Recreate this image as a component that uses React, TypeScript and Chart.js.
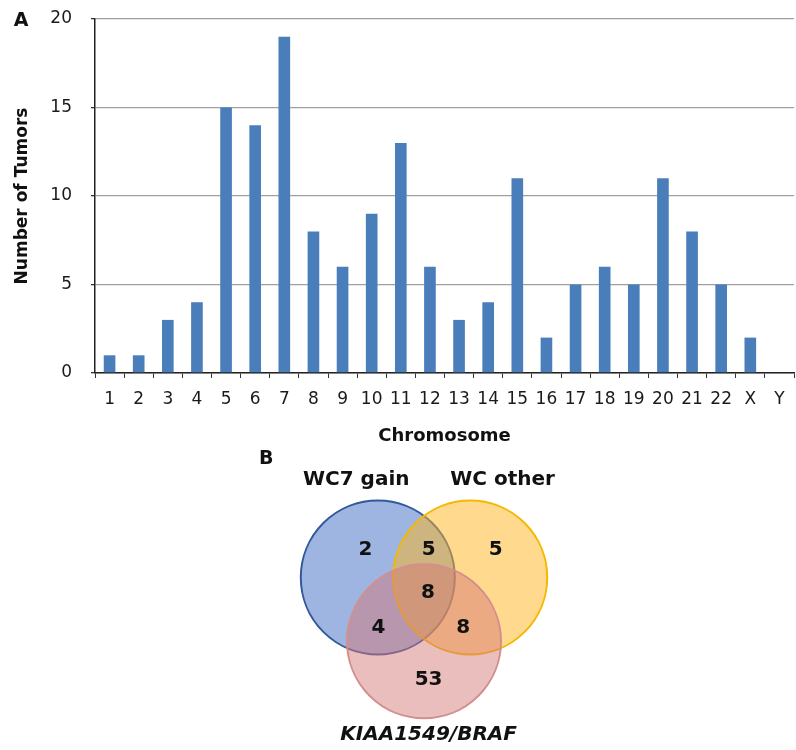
import React, { useEffect, useRef } from 'react';
import { Chart, registerables } from 'chart.js';

Chart.register(...registerables);

// ---------- Panel A data ----------
const chromosomes = ['1', '2', '3', '4', '5', '6', '7', '8', '9', '10', '11', '12', '13', '14', '15', '16', '17', '18', '19', '20', '21', '22', 'X', 'Y'];
const tumorCounts = [1, 1, 3, 4, 15, 14, 19, 8, 6, 9, 13, 6, 3, 4, 11, 2, 5, 6, 5, 11, 8, 5, 2, 0];
const yAxisMax = 20;
const yAxisStep = 5;

// ---------- Panel B data ----------
const vennSetNames = ['WC7 gain', 'WC other', 'KIAA1549/BRAF'];
const vennRegionNames = ['WC7 only', 'WC7 + other', 'other only', 'all three', 'WC7 + KIAA', 'other + KIAA', 'KIAA only'];
const vennRegionCounts = [2, 5, 5, 8, 4, 8, 53];

// ---------- Layout (unit-circle coordinates for the Venn) ----------
const VENN_R = 1;
const VENN_PX = 77; // pixels per unit
const VENN_ORIGIN = { x: 424, y: 149 };
const VENN_W = 796;
const VENN_H = 300;
const vennCenters = [
  { x: -0.6, y: 0.28 },
  { x: 0.6, y: 0.28 },
  { x: 0.0, y: -0.55 },
];
const regionPos = [
  { x: -0.76, y: 0.64 },
  { x: 0.06, y: 0.64 },
  { x: 0.93, y: 0.64 },
  { x: 0.05, y: 0.08 },
  { x: -0.59, y: -0.38 },
  { x: 0.51, y: -0.38 },
  { x: 0.06, y: -1.05 },
];
const setLabelPos = [
  { x: -0.88, y: 1.55 },
  { x: 1.02, y: 1.55 },
  { x: 0.06, y: -1.77 },
];
const panelBPos = { x: -2.05, y: 1.82 };

const FONT = "'DejaVu Sans', sans-serif";

const App: React.FC = () => {
  const barRef = useRef<HTMLCanvasElement>(null);
  const vennRef = useRef<HTMLCanvasElement>(null);

  useEffect(() => {
    const panelA = {
      id: 'panelA',
      afterDraw(chart: any) {
        const ctx = chart.ctx;
        ctx.save();
        ctx.fillStyle = '#111';
        ctx.font = `bold 19px ${FONT}`;
        ctx.textAlign = 'center';
        ctx.textBaseline = 'middle';
        ctx.fillText('A', 21, 21);
        ctx.restore();
      },
    };

    const bar = new Chart(barRef.current!, {
      type: 'bar',
      data: {
        labels: chromosomes,
        datasets: [
          {
            data: tumorCounts,
            backgroundColor: '#4a7ebb',
            barPercentage: 0.4,
            categoryPercentage: 1.0,
          },
        ],
      },
      options: {
        responsive: false,
        animation: false,
        events: [],
        layout: { autoPadding: false, padding: { top: 19, right: 2, left: 0, bottom: 0 } },
        plugins: { legend: { display: false }, tooltip: { enabled: false } },
        scales: {
          x: {
            grid: {
              display: true,
              drawOnChartArea: false,
              drawTicks: true,
              tickLength: 5,
              offset: true,
              color: '#333',
            },
            border: { display: true, color: '#222', width: 1.5 },
            ticks: { color: '#1a1a1a', font: { family: FONT, size: 17 }, padding: 11, autoSkip: false, maxRotation: 0 },
            title: {
              display: true,
              text: 'Chromosome',
              color: '#111',
              font: { family: FONT, size: 18, weight: 'bold' },
              padding: { top: 0, bottom: 3 },
            },
            afterFit: (s: any) => {
              s.height = 77;
            },
          },
          y: {
            min: 0,
            max: yAxisMax,
            grid: { color: '#a0a0a0', lineWidth: 1.3, tickLength: 4, tickColor: '#333' },
            border: { display: true, color: '#222', width: 1.5 },
            ticks: { stepSize: yAxisStep, color: '#1a1a1a', font: { family: FONT, size: 17 }, padding: 19 },
            title: {
              display: true,
              text: 'Number of Tumors',
              color: '#111',
              font: { family: FONT, size: 17, weight: 'bold' },
              padding: { top: 12, bottom: 0 },
            },
            afterFit: (s: any) => {
              s.width = 95;
              s.paddingTop = 0;
              s.paddingBottom = 0;
            },
          },
        },
      },
      plugins: [panelA],
    } as any);

    const vennText = {
      id: 'vennText',
      afterDatasetsDraw(chart: any) {
        const ctx = chart.ctx;
        const sx = chart.scales.x;
        const sy = chart.scales.y;
        const px = (p: { x: number; y: number }) => [sx.getPixelForValue(p.x), sy.getPixelForValue(p.y)];
        ctx.save();
        ctx.fillStyle = '#111';
        ctx.textAlign = 'center';
        ctx.textBaseline = 'middle';
        ctx.font = `bold 20px ${FONT}`;
        vennRegionCounts.forEach((c, i) => {
          const [x, y] = px(regionPos[i]);
          ctx.fillText(String(c), x, y);
        });
        vennSetNames.forEach((name, i) => {
          const [x, y] = px(setLabelPos[i]);
          ctx.font = i === 2 ? `italic bold 20px ${FONT}` : `bold 20px ${FONT}`;
          ctx.fillText(name, x, y);
        });
        const [bx, by] = px(panelBPos);
        ctx.font = `bold 19px ${FONT}`;
        ctx.fillText('B', bx, by);
        ctx.restore();
      },
    };

    const venn = new Chart(vennRef.current!, {
      type: 'bubble',
      data: {
        datasets: [
          {
            label: 'sets',
            data: vennCenters.map((c) => ({ x: c.x, y: c.y, r: VENN_R * VENN_PX })),
            backgroundColor: ['rgba(68,114,196,0.52)', 'rgba(255,182,30,0.5)', 'rgba(214,120,120,0.48)'],
            borderColor: ['#34589a', '#f5b800', '#d48e8e'],
            borderWidth: 2,
            clip: false,
          } as any,
        ],
      },
      options: {
        responsive: false,
        animation: false,
        events: [],
        layout: { autoPadding: false, padding: 0 },
        plugins: { legend: { display: false }, tooltip: { enabled: false } },
        scales: {
          x: {
            type: 'linear',
            display: false,
            min: -VENN_ORIGIN.x / VENN_PX,
            max: (VENN_W - VENN_ORIGIN.x) / VENN_PX,
          },
          y: {
            type: 'linear',
            display: false,
            min: -(VENN_H - VENN_ORIGIN.y) / VENN_PX,
            max: VENN_ORIGIN.y / VENN_PX,
          },
        },
      },
      plugins: [vennText],
    } as any);

    return () => {
      bar.destroy();
      venn.destroy();
    };
  }, []);

  return (
    <div style={{ position: 'fixed', left: 0, top: 0, width: 796, height: 750, background: '#fff' }}>
      <canvas ref={barRef} width={796} height={450} style={{ position: 'absolute', left: 0, top: 0, display: 'block' }} />
      <canvas ref={vennRef} width={VENN_W} height={VENN_H} style={{ position: 'absolute', left: 0, top: 450, display: 'block' }} />
    </div>
  );
};

export default App;
